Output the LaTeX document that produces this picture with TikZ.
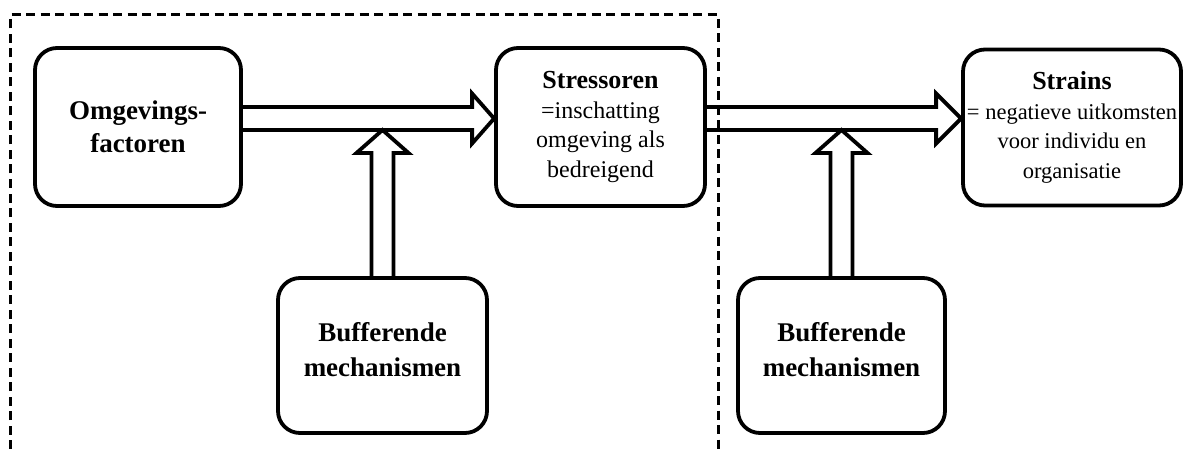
\documentclass[tikz,border=0pt]{standalone}
\usepackage{fontspec}
\setmainfont{Liberation Serif}
\usetikzlibrary{calc}
\tikzset{
  box/.style={draw, line width=3.8pt, rounded corners=22pt, align=center, inner sep=0pt},
  arrowline/.style={draw, line width=3.8pt, line join=miter},
  frame/.style={draw, line width=3pt, dash pattern=on 9pt off 5.5pt},
  ttlfont/.style={font=\fontsize{27}{33}\selectfont\bfseries},
  buffont/.style={font=\fontsize{27}{35}\selectfont\bfseries, text depth=12pt},
  txtfont/.style={font=\fontsize{24}{29.5}\selectfont},
}
\begin{document}
\begin{tikzpicture}[x=1pt,y=-1pt]
\useasboundingbox (0,0) rectangle (1185,449);
% dashed frame
\coordinate (f1) at (10.5,449);
\coordinate (f2) at (10.5,15);
\coordinate (f3) at (718,15);
\coordinate (f4) at (718,449);
\draw[frame] (f1) -- (f2) -- (f3) -- (f4);
% boxes
\node[box, ttlfont, minimum width=206pt, minimum height=158pt] (om) at (138,127)
  {Omgevings-\\factoren};
\node[box, txtfont, minimum width=209pt, minimum height=158pt] (st) at (600.5,127)
  {{\fontsize{26}{29}\selectfont\bfseries Stressoren}\\=inschatting\\omgeving als\\bedreigend};
\node[box, font=\fontsize{22.5}{29.5}\selectfont, minimum width=218pt, minimum height=156pt] (sn) at (1072,127.5)
  {{\fontsize{26}{29}\selectfont\bfseries Strains}\\= negatieve uitkomsten\\voor individu en\\organisatie};
\node[box, buffont, minimum width=209pt, minimum height=155pt] (b1) at (382.5,355.5)
  {Bufferende\\mechanismen};
\node[box, buffont, minimum width=207pt, minimum height=155pt] (b2) at (841.5,355.5)
  {Bufferende\\mechanismen};
% arrow axis
\coordinate (ax) at (0,118.5);
\coordinate (a1s) at (om.east |- ax);
\coordinate (a1e) at (st.west |- ax);
\coordinate (a2s) at (st.east |- ax);
\coordinate (a2e) at (sn.west |- ax);
% horizontal block arrows
\draw[arrowline] ($(a1s)+(0,-11.5)$) -- ($(a1e)+(-22,-11.5)$) -- ($(a1e)+(-22,-25)$)
  -- (a1e) -- ($(a1e)+(-22,25)$) -- ($(a1e)+(-22,11.5)$) -- ($(a1s)+(0,11.5)$);
\draw[arrowline] ($(a2s)+(0,-11.5)$) -- ($(a2e)+(-25,-11.5)$) -- ($(a2e)+(-25,-25)$)
  -- (a2e) -- ($(a2e)+(-25,25)$) -- ($(a2e)+(-25,11.5)$) -- ($(a2s)+(0,11.5)$);
% vertical block arrows
\coordinate (v1t) at ($(b1.north |- ax)+(0,11.5)$);
\coordinate (v2t) at ($(b2.north |- ax)+(0,11.5)$);
\draw[arrowline] ($(b1.north)+(-11,0)$) -- ($(v1t)+(-11,23)$) -- ($(v1t)+(-26,23)$)
  -- (v1t) -- ($(v1t)+(26,23)$) -- ($(v1t)+(11,23)$) -- ($(b1.north)+(11,0)$);
\draw[arrowline] ($(b2.north)+(-11,0)$) -- ($(v2t)+(-11,23)$) -- ($(v2t)+(-26,23)$)
  -- (v2t) -- ($(v2t)+(26,23)$) -- ($(v2t)+(11,23)$) -- ($(b2.north)+(11,0)$);
\end{tikzpicture}
\end{document}
